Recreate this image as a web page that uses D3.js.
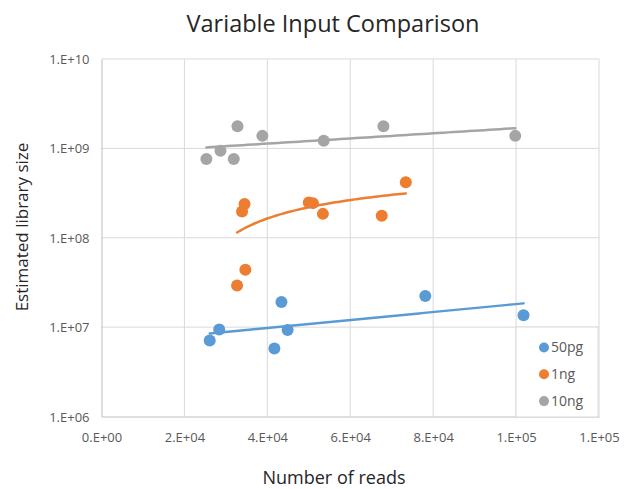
<!DOCTYPE html>
<html><head><meta charset="utf-8">
<script src="https://cdn.jsdelivr.net/npm/d3@7"></script>
<style>body{margin:0;background:#fff}svg{display:block}</style>
</head><body><svg id="c" width="634" height="489"></svg>
<script>
const title = "Variable Input Comparison";
const xTitle = "Number of reads";
const yTitle = "Estimated library size";
const seriesNames = ["50pg", "1ng", "10ng"];
const seriesColors = ["#5b9bd5", "#ed7d31", "#a5a5a5"];
const trendTypes = ["exp", "log", "exp"];
const x50pg = [26100, 28400, 41700, 43400, 44900, 78100, 101800];
const y50pg = [7.1e6, 9.4e6, 5.75e6, 1.91e7, 9.3e6, 2.23e7, 1.36e7];
const x1ng = [34500, 33900, 50000, 51000, 53400, 67600, 73400, 34700, 32700];
const y1ng = [2.38e8, 1.97e8, 2.48e8, 2.44e8, 1.85e8, 1.76e8, 4.19e8, 4.39e7, 2.93e7];
const x10ng = [25300, 28700, 31900, 32800, 38800, 53600, 68000, 99800];
const y10ng = [7.6e8, 9.4e8, 7.6e8, 1.77e9, 1.38e9, 1.22e9, 1.77e9, 1.38e9];
const xTicks = [0, 20000, 40000, 60000, 80000, 100000, 120000];
const xTickLabels = ["0.E+00", "2.E+04", "4.E+04", "6.E+04", "8.E+04", "1.E+05", "1.E+05"];
const yTicks = [1e6, 1e7, 1e8, 1e9, 1e10];
const yTickLabels = ["1.E+06", "1.E+07", "1.E+08", "1.E+09", "1.E+10"];

const series = [
  {name: seriesNames[0], color: seriesColors[0], trend: trendTypes[0], xs: x50pg, ys: y50pg},
  {name: seriesNames[1], color: seriesColors[1], trend: trendTypes[1], xs: x1ng, ys: y1ng},
  {name: seriesNames[2], color: seriesColors[2], trend: trendTypes[2], xs: x10ng, ys: y10ng}
];

const svg = d3.select("#c");
const L = 101.5, R = 599, T = 59, B = 416.5;
const x = d3.scaleLinear().domain([0, 120000]).range([L, R]);
const y = d3.scaleLog().domain([1e6, 1e10]).range([B, T]);
const font = "'Open Sans', sans-serif";

// gridlines
const g = svg.append("g");
g.selectAll(".vg").data(xTicks.slice(1)).join("line")
  .attr("x1", d => x(d)).attr("x2", d => x(d)).attr("y1", T).attr("y2", B)
  .attr("stroke", "#d9d9d9").attr("stroke-width", 1);
g.selectAll(".hg").data(yTicks.slice(1)).join("line")
  .attr("x1", L).attr("x2", R).attr("y1", d => y(d)).attr("y2", d => y(d))
  .attr("stroke", "#d9d9d9").attr("stroke-width", 1);

// axes
const xAxis = d3.axisBottom(x).tickValues(xTicks).tickSize(0).tickFormat((d, i) => xTickLabels[i]);
const yAxis = d3.axisLeft(y).tickValues(yTicks).tickSize(0).tickFormat((d, i) => yTickLabels[i]);
const gx = svg.append("g").attr("transform", `translate(0,${B})`).call(xAxis);
const gy = svg.append("g").attr("transform", `translate(${L},0)`).call(yAxis);
[gx, gy].forEach(a => {
  a.select(".domain").attr("stroke", "#bfbfbf").attr("stroke-width", 1);
  a.selectAll("text").attr("fill", "#595959").style("font-family", font).style("font-size", "13px");
});
gx.selectAll("text").attr("dy", "0").attr("y", 25);
gy.selectAll("text").attr("x", -12).attr("dy", "0.35em");

// least squares helper
function fit(u, v) {
  const mu = d3.mean(u), mv = d3.mean(v);
  let suv = 0, suu = 0;
  u.forEach((ui, i) => { suv += (ui - mu) * (v[i] - mv); suu += (ui - mu) ** 2; });
  const b = suv / suu;
  return [mv - b * mu, b];
}

// trendlines (spreadsheet-style exponential / logarithmic fits)
series.forEach(s => {
  let f;
  if (s.trend === "exp") {
    const [a, b] = fit(s.xs, s.ys.map(Math.log));
    f = xv => Math.exp(a + b * xv);
  } else {
    const [a, b] = fit(s.xs.map(Math.log), s.ys);
    f = xv => a + b * Math.log(xv);
  }
  const [x0, x1] = d3.extent(s.xs);
  const pts = d3.range(0, 61).map(k => { const xv = x0 + (x1 - x0) * k / 60; return [xv, f(xv)]; });
  svg.append("path").datum(pts)
    .attr("d", d3.line().x(d => x(d[0])).y(d => y(d[1])))
    .attr("fill", "none").attr("stroke", s.color).attr("stroke-width", 2.5).attr("stroke-linecap", "round");
});

// points
series.forEach(s => {
  svg.append("g").selectAll("circle").data(s.xs.map((v, i) => [v, s.ys[i]])).join("circle")
    .attr("cx", d => x(d[0])).attr("cy", d => y(d[1])).attr("r", 6).attr("fill", s.color);
});

// legend
const lg = svg.append("g");
lg.append("rect").attr("x", 516).attr("y", 327).attr("width", 82).attr("height", 90)
  .attr("fill", "#fff").attr("stroke", "#d9d9d9").attr("stroke-width", 1);
series.forEach((s, i) => {
  const cy = 347.5 + i * 26.8;
  lg.append("circle").attr("cx", 544).attr("cy", cy).attr("r", 5).attr("fill", s.color);
  lg.append("text").attr("x", 551).attr("y", cy).attr("dy", "0.35em")
    .attr("fill", "#595959").style("font-family", font).style("font-size", "14px").text(s.name);
});

// titles
svg.append("text").attr("x", 333).attr("y", 32).attr("text-anchor", "middle")
  .attr("fill", "#262626").style("font-family", font).style("font-size", "23.5px").text(title);
svg.append("text").attr("x", 334).attr("y", 484).attr("text-anchor", "middle")
  .attr("fill", "#262626").style("font-family", font).style("font-size", "18px").text(xTitle);
svg.append("text").attr("transform", "translate(28,227) rotate(-90)").attr("text-anchor", "middle")
  .attr("fill", "#262626").style("font-family", font).style("font-size", "17px").text(yTitle);
</script></body></html>
